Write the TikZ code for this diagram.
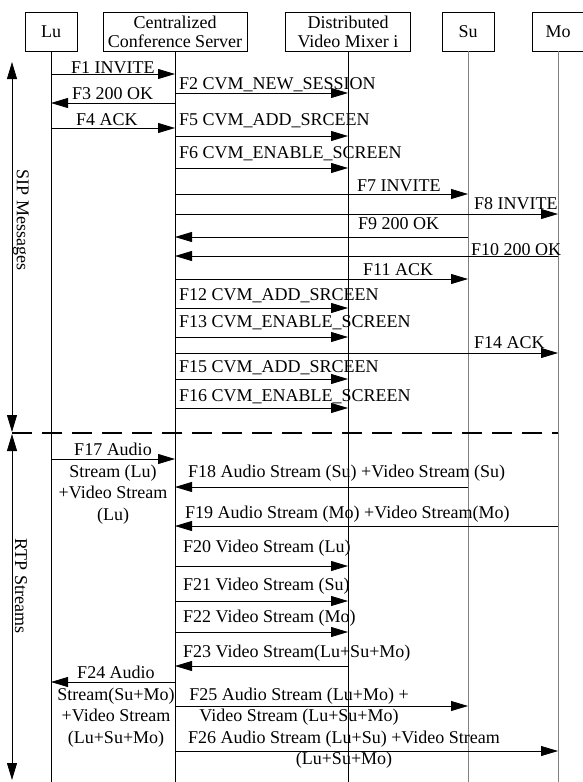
\documentclass[tikz,border=0pt]{standalone}
\usepackage{fontspec}
\setmainfont{Liberation Serif}
\usetikzlibrary{arrows.meta}

\tikzset{
  box/.style={draw,line width=0.8pt,inner sep=0pt,minimum height=39pt,align=center,font=\fontsize{18}{19}\selectfont},
  lbl/.style={inner sep=0pt,font=\fontsize{18}{21.7}\selectfont},
  msg/.style={line width=0.8pt,-{Triangle[length=17pt,width=10pt]}},
  phasearrow/.style={line width=0.8pt,{Triangle[length=17pt,width=10pt]}-{Triangle[length=17pt,width=10pt]}},
}

\begin{document}
\begin{tikzpicture}[x=1pt,y=-1pt]
\useasboundingbox (0,0) rectangle (583,782);
% heads and lifelines
\node[box,minimum width=52pt] (lu) at (51,31.5) {Lu};
\node[box,minimum width=144pt] (ccs) at (175,31.5) {Centralized\\Conference Server};
\node[box,minimum width=125pt] (dvm) at (348,31.5) {Distributed\\Video Mixer i};
\node[box,minimum width=52pt] (su) at (468,31.5) {Su};
\node[box,minimum width=51pt] (mo) at (558,31.5) {Mo};
\foreach \n in {lu,ccs,dvm} \draw[line width=0.8pt] (\n.south) -- (\n.south |- 0,782);
\foreach \n in {su,mo} \draw[line width=0.8pt,gray] (\n.south) -- (\n.south |- 0,782);
% phases
\coordinate (sipTop) at (12,62);
\coordinate (sipBot) at (12,432);
\coordinate (rtpTop) at (12,434);
\coordinate (rtpBot) at (12,780);
\draw[phasearrow] (sipTop) -- (sipBot);
\draw[phasearrow] (rtpTop) -- (rtpBot);
\node[lbl,rotate=-90] (sip) at (21,220) {SIP Messages};
\node[lbl,rotate=-90] (rtp) at (21,586) {RTP Streams};
\coordinate (sep) at (12,433);
\draw[line width=2.5pt,dash pattern=on 20pt off 10pt] (sep) -- (mo |- sep);
% SIP messages
\draw[msg] (lu |- 0,74) -- (ccs |- 0,74);
\node[lbl,anchor=base west] (l1) at (71,73) {F1 INVITE};
\draw[msg] (ccs |- 0,93) -- (dvm |- 0,93);
\node[lbl,anchor=base west] (l2) at (179,89) {F2 CVM\_NEW\_SESSION};
\draw[msg] (ccs |- 0,103) -- (lu |- 0,103);
\node[lbl,anchor=base west] (l3) at (72,99) {F3 200 OK};
\draw[msg] (lu |- 0,128) -- (ccs |- 0,128);
\node[lbl,anchor=base west] (l4) at (76,125) {F4 ACK};
\draw[msg] (ccs |- 0,136) -- (dvm |- 0,136);
\node[lbl,anchor=base west] (l5) at (179,125) {F5 CVM\_ADD\_SRCEEN};
\draw[msg] (ccs |- 0,168) -- (dvm |- 0,168);
\node[lbl,anchor=base west] (l6) at (179,158) {F6 CVM\_ENABLE\_SCREEN};
\draw[msg] (ccs |- 0,194) -- (su |- 0,194);
\node[lbl,anchor=base west] (l7) at (357,191) {F7 INVITE};
\draw[msg] (ccs |- 0,214) -- (mo |- 0,214);
\node[lbl,anchor=base west] (l8) at (474,209) {F8 INVITE};
\draw[msg] (su |- 0,237) -- (ccs |- 0,237);
\node[lbl,anchor=base west] (l9) at (358,229) {F9 200 OK};
\draw[msg] (mo |- 0,256) -- (ccs |- 0,256);
\node[lbl,anchor=base west] (l10) at (471,255) {F10 200 OK};
\draw[msg] (ccs |- 0,279) -- (su |- 0,279);
\node[lbl,anchor=base west] (l11) at (363,275) {F11 ACK};
\draw[msg] (ccs |- 0,308) -- (dvm |- 0,308);
\node[lbl,anchor=base west] (l12) at (179,300) {F12 CVM\_ADD\_SRCEEN};
\draw[msg] (ccs |- 0,337) -- (dvm |- 0,337);
\node[lbl,anchor=base west] (l13) at (179,327) {F13 CVM\_ENABLE\_SCREEN};
\draw[msg] (ccs |- 0,353) -- (mo |- 0,353);
\node[lbl,anchor=base west] (l14) at (474,348) {F14 ACK};
\draw[msg] (ccs |- 0,379) -- (dvm |- 0,379);
\node[lbl,anchor=base west] (l15) at (179,372) {F15 CVM\_ADD\_SRCEEN};
\draw[msg] (ccs |- 0,408) -- (dvm |- 0,408);
\node[lbl,anchor=base west] (l16) at (179,401) {F16 CVM\_ENABLE\_SCREEN};
% RTP streams
\draw[msg] (lu |- 0,459) -- (ccs |- 0,459);
\node[lbl,align=center,anchor=north] (l17) at (113,442.7) {F17 Audio\\Stream (Lu)\\+Video Stream\\(Lu)};
\draw[msg] (su |- 0,487) -- (ccs |- 0,487);
\node[lbl,anchor=base west] (l18) at (188,477) {F18 Audio Stream (Su) +Video Stream (Su)};
\draw[msg] (mo |- 0,526) -- (ccs |- 0,526);
\node[lbl,anchor=base west] (l19) at (185,518) {F19 Audio Stream (Mo) +Video Stream(Mo)};
\draw[msg] (ccs |- 0,566) -- (dvm |- 0,566);
\node[lbl,anchor=base west] (l20) at (183,552) {F20 Video Stream (Lu)};
\draw[msg] (ccs |- 0,601) -- (dvm |- 0,601);
\node[lbl,anchor=base west] (l21) at (183,590) {F21 Video Stream (Su)};
\draw[msg] (ccs |- 0,632) -- (dvm |- 0,632);
\node[lbl,anchor=base west] (l22) at (183,622) {F22 Video Stream (Mo)};
\draw[msg] (dvm |- 0,666) -- (ccs |- 0,666);
\node[lbl,anchor=base west] (l23) at (183,657) {F23 Video Stream(Lu+Su+Mo)};
\draw[msg] (ccs |- 0,682) -- (lu |- 0,682);
\node[lbl,align=center,anchor=north] (l24) at (116,665.7) {F24 Audio\\Stream(Su+Mo)\\+Video Stream\\(Lu+Su+Mo)};
\draw[msg] (ccs |- 0,706) -- (su |- 0,706);
\node[lbl,align=center,anchor=north] (l25) at (299,687.5) {F25 Audio Stream (Lu+Mo) +\\Video Stream (Lu+Su+Mo)};
\draw[msg] (ccs |- 0,751) -- (mo |- 0,751);
\node[lbl,align=center,anchor=north] (l26) at (344,730.5) {F26 Audio Stream (Lu+Su) +Video Stream\\(Lu+Su+Mo)};
\end{tikzpicture}
\end{document}
